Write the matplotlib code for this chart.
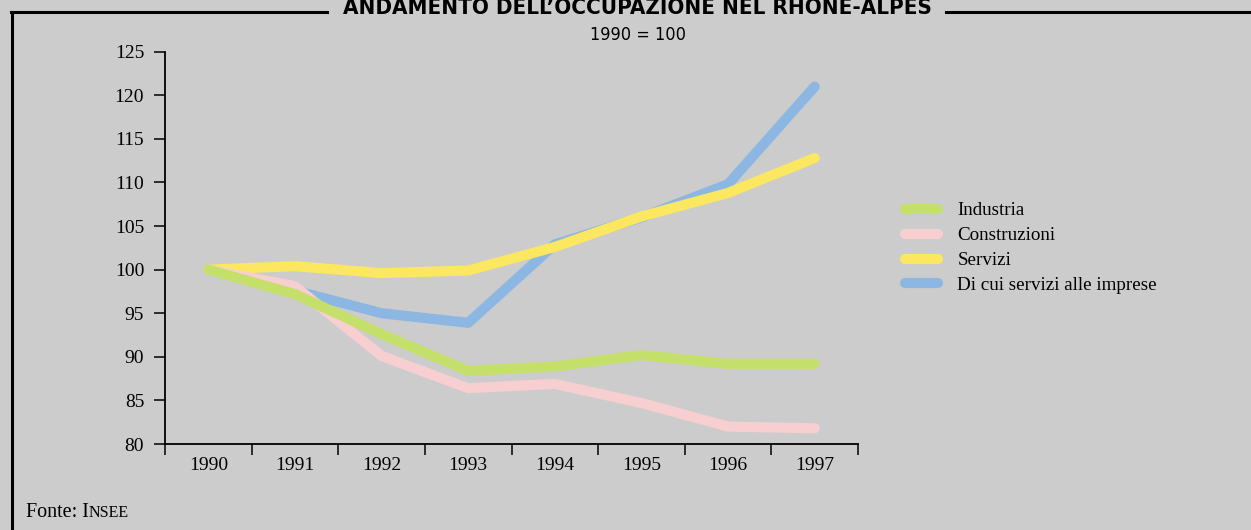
import matplotlib
matplotlib.use('Agg')
import matplotlib.pyplot as plt
from matplotlib import font_manager as fm
from matplotlib.lines import Line2D

years = ['1990', '1991', '1992', '1993', '1994', '1995', '1996', '1997']
industria = [100, 97.2, 92.6, 88.4, 88.9, 90.2, 89.2, 89.2]
costruzioni = [100, 98.1, 90.1, 86.4, 86.9, 84.7, 82.0, 81.8]
servizi = [100, 100.4, 99.6, 99.9, 102.6, 106.1, 108.8, 112.8]
imprese = [100, 97.6, 95.0, 93.9, 102.9, 106.0, 109.8, 121.0]
labels = ['Industria', 'Construzioni', 'Servizi', 'Di cui servizi alle imprese']
yticks = [80, 85, 90, 95, 100, 105, 110, 115, 120, 125]

c_green = '#c5e06a'
c_pink = '#f8cfd1'
c_yellow = '#fbe760'
c_blue = '#8db7e3'
bg = '#cccccc'

names = {f.name for f in fm.fontManager.ttflist}
if 'Liberation Sans Narrow' in names:
    narrow = dict(family='Liberation Sans Narrow')
else:
    narrow = dict(family='DejaVu Sans', stretch='condensed')
serif = 'Liberation Serif'

W, H = 1251, 530
fig = plt.figure(figsize=(W / 100, H / 100), dpi=100, facecolor=bg)
ax = fig.add_axes([165 / W, 1 - 444 / H, (858 - 165) / W, (444 - 51.7) / H])
ax.set_facecolor('none')

x = list(range(len(years)))
lw = 7.3
kw = dict(lw=lw, solid_capstyle='round', solid_joinstyle='round')
ax.plot(x, imprese, color=c_blue, **kw)
ax.plot(x, servizi, color=c_yellow, **kw)
ax.plot(x, costruzioni, color=c_pink, **kw)
ax.plot(x, industria, color=c_green, **kw)

ax.set_xlim(-0.5, 7.5)
ax.set_ylim(80, 125)
ax.set_yticks(yticks)
ax.set_xticks(x)
ax.set_xticklabels(years)
ax.set_xticks([i - 0.5 for i in range(len(years) + 1)], minor=True)
for s in ['top', 'right']:
    ax.spines[s].set_visible(False)
for s in ['left', 'bottom']:
    ax.spines[s].set_linewidth(1.3)
ax.tick_params(axis='y', length=8, width=1.1, pad=7, labelsize=14)
ax.tick_params(axis='x', which='major', length=0, pad=9, labelsize=14)
ax.tick_params(axis='x', which='minor', length=8, width=1.1)
for t in ax.get_xticklabels() + ax.get_yticklabels():
    t.set_fontfamily(serif)

handles = [Line2D([], [], color=c, lw=lw, solid_capstyle='round')
           for c in [c_green, c_pink, c_yellow, c_blue]]
fig.legend(handles, labels, loc='upper left', bbox_to_anchor=(905 / W, 1 - 202 / H),
           frameon=False, borderpad=0, borderaxespad=0, handlelength=1.75,
           handletextpad=1.0, labelspacing=0.4, prop=dict(family=serif, size=13.7))

# frame around the chart
fig.add_artist(Line2D([12 / W, 12 / W], [0, 1 - 12 / H], color='black', lw=2.2,
                      transform=fig.transFigure))
fig.add_artist(Line2D([11 / W, 327 / W], [1 - 12 / H, 1 - 12 / H], color='black', lw=2.2,
                      transform=fig.transFigure))
fig.add_artist(Line2D([946 / W, 1], [1 - 12 / H, 1 - 12 / H], color='black', lw=2.2,
                      transform=fig.transFigure))

fig.text(637 / W, 1 - 7.5 / H, 'ANDAMENTO DELL\u2019OCCUPAZIONE NEL RH\u00d4NE-ALPES',
         ha='center', va='center', fontsize=16, fontweight='semibold', **narrow)
fig.text(638 / W, 1 - 35 / H, '1990 = 100', ha='center', va='center', fontsize=13, **narrow)

t1 = fig.text(26 / W, 1 - 517 / H, 'Fonte: I', ha='left', va='baseline',
              fontsize=14.5, family=serif)
r = fig.canvas.get_renderer()
bb = t1.get_window_extent(r)
fig.text(bb.x1 / W, 1 - 517 / H, 'NSEE', ha='left', va='baseline', fontsize=11.5, family=serif)

fig.savefig('out.png', dpi=100, facecolor=bg)
